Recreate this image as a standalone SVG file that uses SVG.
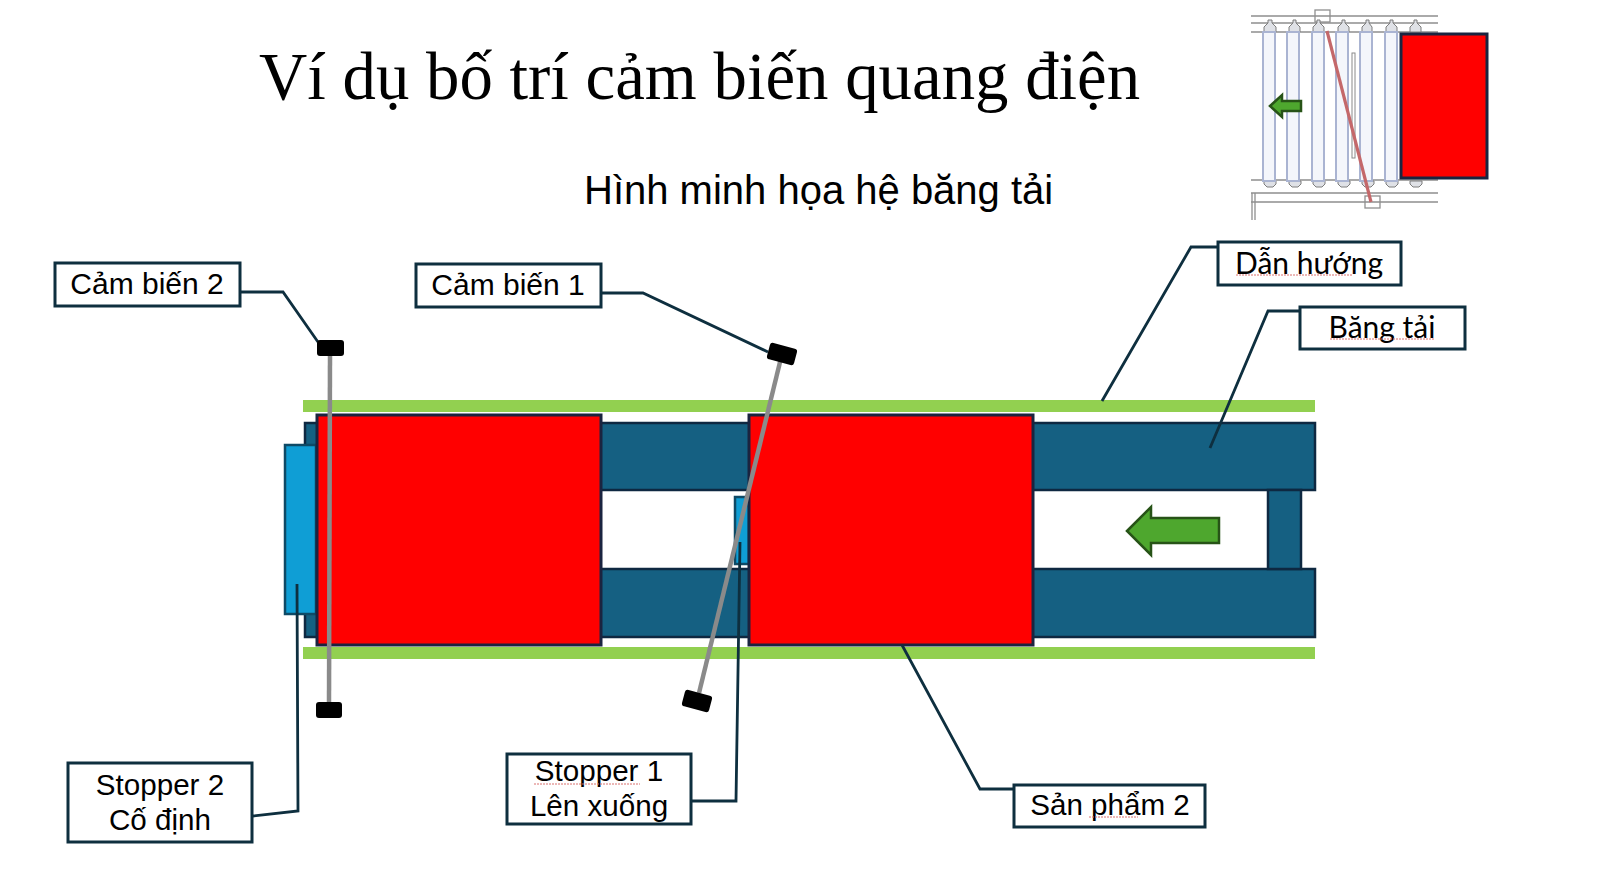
<svg xmlns="http://www.w3.org/2000/svg" width="1600" height="896" viewBox="0 0 1600 896">
<style>
text{fill:#000}
.title{font-family:"Liberation Serif",serif;font-size:66.8px}
.sub{font-family:"Liberation Sans",sans-serif;font-size:40px}
.lab{font-family:"Liberation Sans",sans-serif;font-size:29.6px;text-anchor:middle}
.cam{font-size:30px}
.lato{font-family:Lato,sans-serif;font-size:30px;text-anchor:middle}
.box{fill:#fff;stroke:#0e2f3f;stroke-width:3}
.lead{fill:none;stroke:#0e2f3f;stroke-width:2.8}
.belt{fill:#156082;stroke:#0e2841;stroke-width:2.5}
.guide{fill:#92d050}
.prod{fill:#f00;stroke:#1a2440;stroke-width:3}
.stop{fill:#0f9ed5;stroke:#0e4a66;stroke-width:2.5}
.beam{stroke:#8a8a8a;stroke-width:4.5;fill:none}
.spell{stroke:#d9706f;stroke-width:1;stroke-dasharray:2 1;fill:none}
.frame{stroke:#8f8f8f;stroke-width:1.3;fill:none}
.roller{fill:#f4f6fb;stroke:#aab4d2;stroke-width:2}
.cap{fill:#dfe1e6;stroke:#7d7d7d;stroke-width:1}
</style>
<rect width="1600" height="896" fill="#fff"/>
<text id="title" class="title" x="259" y="99">Ví dụ bố trí cảm biến quang điện</text>
<text id="subtitle" class="sub" x="584" y="204">Hình minh họa hệ băng tải</text>

<g id="inset">
<path class="frame" d="M1251 16H1438M1251 23H1438M1251 32H1438M1251 180H1438M1251 193H1438M1251 202H1438M1252 193V220M1255 193V220"/>
<rect class="frame" x="1315" y="10" width="15" height="12"/>
<rect class="frame" x="1365" y="196" width="15" height="12"/>
<g>
<path class="cap" d="M1264 32v-5l4-4v-3h4v3l4 4v5zM1289 32v-5l4-4v-3h3v3l4 4v5zM1313 32v-5l4-4v-3h3v3l4 4v5zM1338 32v-5l4-4v-3h3v3l4 4v5zM1362 32v-5l4-4v-3h3v3l3 4v5zM1386 32v-5l4-4v-3h3v3l4 4v5zM1410 32v-5l4-4v-3h3v3l4 4v5z"/>
<path class="cap" d="M1264 181v3l3 3h6l3-3v-3zM1289 181v3l3 3h6l3-3v-3zM1313 181v3l3 3h6l3-3v-3zM1338 181v3l3 3h6l3-3v-3zM1362 181v3l3 3h6l3-3v-3zM1386 181v3l3 3h6l3-3v-3zM1410 181v3l3 3h6l3-3v-3z"/>
<rect class="roller" x="1263" y="32" width="12" height="149"/>
<rect class="roller" x="1287" y="32" width="12" height="149"/>
<rect class="roller" x="1312" y="32" width="12" height="149"/>
<rect class="roller" x="1336" y="32" width="12" height="149"/>
<rect class="roller" x="1360" y="32" width="12" height="149"/>
<rect class="roller" x="1385" y="32" width="12" height="149"/>
</g>
<rect x="1352" y="53" width="3" height="105" fill="#fff" stroke="#8a8a8a" stroke-width="1"/>
<line x1="1327" y1="31" x2="1371" y2="202" stroke="#c4686a" stroke-width="3.2"/>
<rect x="1401" y="34" width="86" height="144" fill="#f00" stroke="#1a2440" stroke-width="3"/>
<path d="M1270 106L1282 95V101H1301V111H1282V117Z" fill="#4ea72e" stroke="#275317" stroke-width="2.5"/>
</g>

<g id="conveyor">
<rect class="belt" x="305" y="423" width="1010" height="67"/>
<rect class="belt" x="305" y="569" width="1010" height="68"/>
<rect class="belt" x="1268" y="490" width="33" height="79"/>
</g>
<g id="guide-top"><rect class="guide" x="303" y="400" width="1012" height="12"/></g>
<g id="guide-bottom"><rect class="guide" x="303" y="647" width="1012" height="12"/></g>
<g id="stopper-2-shape"><rect class="stop" x="285" y="445" width="31" height="169"/></g>
<g id="stopper-1-shape"><rect class="stop" x="735" y="497" width="14" height="67"/></g>
<g id="product-1"><rect class="prod" x="317" y="415" width="284" height="230"/></g>
<g id="product-2"><rect class="prod" x="749" y="415" width="284" height="230"/></g>
<g id="flow-arrow"><path d="M1127 531L1151 507V518H1219V543H1151V555Z" fill="#4ea72e" stroke="#275317" stroke-width="2.5"/></g>

<g id="connectors">
<path class="lead" d="M240 292H283L318 342"/>
<path class="lead" d="M601 293H643L768 352"/>
<path class="lead" d="M1217 247H1191L1102 401"/>
<path class="lead" d="M1299 311H1268L1210 448"/>
<path class="lead" d="M253 816L298 811L297 584"/>
<path class="lead" d="M692 801H736L740 542"/>
<path class="lead" d="M1013 789H980L902 645"/>
</g>

<g id="sensor-2-beam"><line class="beam" x1="330" y1="355" x2="329" y2="703"/></g>
<g id="sensor-1-beam"><line class="beam" x1="781" y1="358" x2="699" y2="693"/></g>
<g id="sensor-2-top"><rect x="317" y="340" width="27" height="16" rx="3"/></g>
<g id="sensor-2-bottom"><rect x="316" y="702" width="26" height="16" rx="3"/></g>
<g id="sensor-1-top"><rect x="768" y="345.500" width="28" height="17" rx="3" transform="rotate(15 782 354)"/></g>
<g id="sensor-1-bottom"><rect x="683" y="692.500" width="28" height="17" rx="3" transform="rotate(15 697 701)"/></g>

<g id="label-cam-bien-2"><rect class="box" x="55" y="263" width="185" height="43"/><text class="lab cam" x="147" y="294">Cảm biến 2</text></g>
<g id="label-cam-bien-1"><rect class="box" x="416" y="264" width="185" height="43"/><text class="lab cam" x="508" y="295">Cảm biến 1</text></g>
<g id="label-dan-huong"><rect class="box" x="1218" y="242" width="183" height="43"/><text class="lato" x="1309" y="274">Dẫn hướng</text><path class="spell" d="M1236 275H1352"/></g>
<g id="label-bang-tai"><rect class="box" x="1300" y="307" width="165" height="42"/><text class="lato" x="1382" y="338">Băng tải</text><path class="spell" d="M1330 339H1435"/></g>
<g id="label-stopper-2"><rect class="box" x="68" y="763" width="184" height="79"/><text class="lab" x="160" y="795">Stopper 2</text><text class="lab" x="160" y="830">Cố định</text></g>
<g id="label-stopper-1"><rect class="box" x="507" y="754" width="184" height="70"/><text class="lab" x="599" y="781">Stopper 1</text><text class="lab" x="599" y="816">Lên xuống</text><path class="spell" d="M534 784H640"/></g>
<g id="label-san-pham-2"><rect class="box" x="1014" y="785" width="191" height="42"/><text class="lab" x="1110" y="815">Sản phẩm 2</text><path class="spell" d="M1089 817H1138"/></g>
</svg>
